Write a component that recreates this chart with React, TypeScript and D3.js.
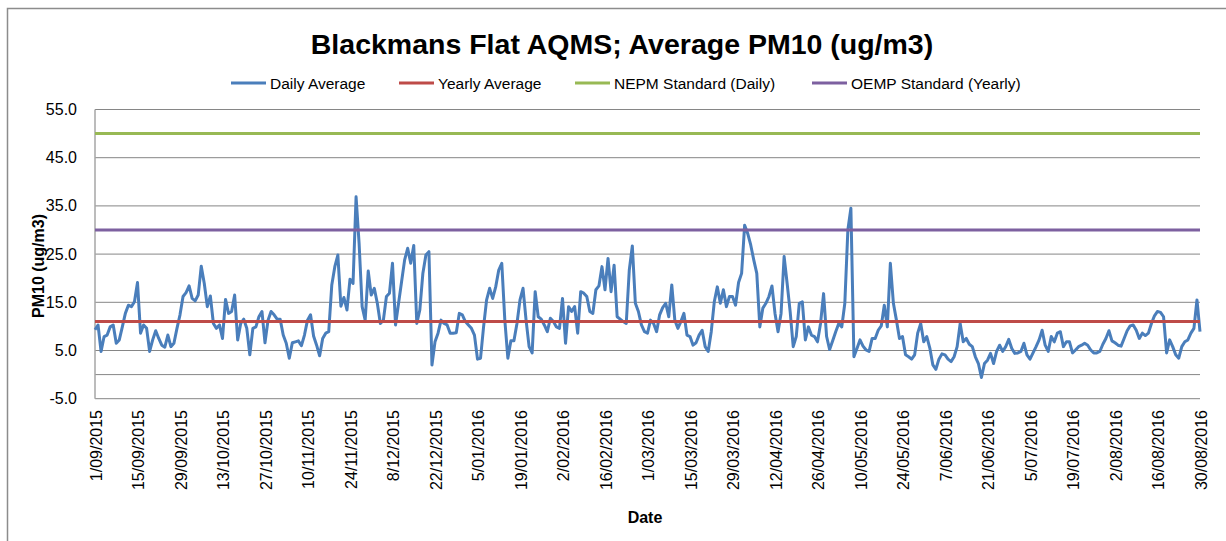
import React from 'react'
import * as d3 from 'd3'

// daily PM10 averages, 1/09/2015 .. 30/08/2016
const dailyAverage: number[] = [
  9.3, 10.3, 4.8, 7.9, 8.2, 9.9, 10.3, 6.5, 7.2, 9.9,
  12.7, 14.4, 14.1, 15.1, 19.1, 8.6, 10.3, 9.6, 4.8, 7.2,
  9.1, 7.5, 6.1, 5.7, 8.2, 5.8, 6.5, 9.6, 12.4, 16.2,
  17.0, 18.4, 15.8, 15.3, 16.5, 22.5, 18.9, 14.1, 16.3, 10.6,
  9.6, 10.3, 7.5, 15.6, 12.7, 13.1, 16.5, 7.2, 10.6, 11.5,
  9.6, 4.1, 9.6, 9.9, 12.0, 13.1, 6.6, 11.3, 13.1, 12.4,
  11.5, 11.5, 8.2, 6.5, 3.4, 6.6, 6.8, 7.0, 6.0, 8.2,
  11.3, 12.4, 8.0, 6.1, 3.9, 7.5, 8.6, 8.9, 18.6, 22.4,
  24.8, 14.2, 16.0, 13.4, 19.8, 18.9, 36.9, 27.2, 14.1, 11.3,
  21.5, 16.5, 17.9, 14.8, 10.6, 11.3, 16.2, 16.9, 23.1, 10.3,
  14.8, 19.3, 23.8, 26.2, 23.1, 26.8, 10.6, 13.4, 21.0, 24.8,
  25.5, 2.0, 6.8, 8.6, 11.3, 10.6, 10.3, 8.6, 8.6, 8.7,
  12.7, 12.4, 11.0, 10.3, 9.6, 8.2, 3.2, 3.4, 9.9, 15.5,
  17.9, 15.8, 18.2, 21.7, 23.1, 11.3, 3.4, 7.0, 7.0, 10.6,
  15.5, 17.9, 11.3, 5.8, 4.5, 17.2, 12.0, 11.5, 10.3, 8.9,
  11.7, 11.0, 9.9, 9.6, 15.8, 6.5, 14.1, 13.1, 14.1, 8.6,
  17.2, 16.9, 16.2, 13.1, 12.7, 17.6, 18.4, 22.4, 17.6, 24.1,
  17.2, 22.7, 12.0, 11.5, 11.0, 10.6, 21.7, 26.7, 14.8, 13.1,
  10.3, 8.9, 8.6, 11.3, 10.6, 8.9, 12.4, 13.9, 14.8, 12.0,
  18.6, 11.3, 9.6, 11.0, 12.7, 8.2, 7.9, 6.1, 6.6, 8.2,
  9.2, 5.8, 4.8, 8.9, 15.1, 18.2, 14.8, 17.6, 14.1, 16.2,
  16.2, 14.4, 19.1, 21.0, 31.0, 29.3, 26.9, 23.8, 21.0, 9.9,
  13.8, 14.8, 16.2, 18.4, 12.7, 8.9, 12.7, 24.5, 18.9, 13.0,
  5.8, 7.9, 14.8, 15.1, 7.2, 9.9, 8.2, 7.9, 6.8, 10.6,
  16.8, 7.9, 5.2, 7.0, 8.9, 10.6, 9.9, 14.8, 30.0, 34.5,
  3.7, 5.4, 7.2, 5.9, 5.1, 4.8, 7.5, 7.5, 9.2, 10.1,
  14.4, 9.9, 23.1, 14.8, 11.3, 7.5, 7.9, 4.1, 3.7, 3.2,
  4.1, 8.6, 10.6, 6.8, 7.9, 5.5, 2.0, 1.1, 3.2, 4.3,
  4.1, 3.2, 2.7, 3.7, 5.8, 10.6, 6.8, 7.5, 6.3, 5.8,
  3.7, 2.3, -0.6, 2.3, 3.0, 4.4, 2.3, 4.8, 6.1, 4.8,
  5.8, 7.3, 5.4, 4.4, 4.5, 4.8, 6.5, 4.1, 3.2, 4.5,
  5.8, 7.2, 9.2, 6.1, 4.8, 7.9, 6.8, 8.6, 8.9, 5.8,
  6.8, 6.8, 4.5, 5.1, 5.8, 6.1, 6.5, 6.1, 5.1, 4.5,
  4.5, 4.8, 6.3, 7.5, 9.1, 7.0, 6.6, 6.1, 5.9, 7.5,
  9.1, 10.1, 10.3, 9.2, 7.5, 8.6, 8.1, 8.6, 10.6, 12.2,
  13.1, 12.9, 12.0, 4.5, 7.2, 5.8, 4.1, 3.4, 5.8, 6.8,
  7.2, 8.6, 9.6, 15.5, 8.9
]

const yearlyAverage = 11.0
const nepmDailyStandard = 50
const oempYearlyStandard = 30

const startDate = '1/09/2015'
const xTickLabels = [
  '1/09/2015', '15/09/2015', '29/09/2015', '13/10/2015', '27/10/2015',
  '10/11/2015', '24/11/2015', '8/12/2015', '22/12/2015', '5/01/2016',
  '19/01/2016', '2/02/2016', '16/02/2016', '1/03/2016', '15/03/2016',
  '29/03/2016', '12/04/2016', '26/04/2016', '10/05/2016', '24/05/2016',
  '7/06/2016', '21/06/2016', '5/07/2016', '19/07/2016', '2/08/2016',
  '16/08/2016', '30/08/2016'
]
const yTickValues = [-5, 5, 15, 25, 35, 45, 55]

const seriesNames = ['Daily Average', 'Yearly Average', 'NEPM Standard (Daily)', 'OEMP Standard (Yearly)']
const seriesColors = ['#4A7EBB', '#BE4B48', '#98B954', '#7D60A0']

const WIDTH = 1226
const HEIGHT = 541
const FONT = 'Liberation Sans, Arial, sans-serif'

export default function App() {
  const parseDate = d3.timeParse('%d/%m/%Y')
  const start = parseDate(startDate) as Date
  const dates = dailyAverage.map((_, i) => d3.timeDay.offset(start, i))

  const x = d3.scaleTime()
    .domain([dates[0], dates[dates.length - 1]])
    .range([95, 1200])

  const y = d3.scaleLinear()
    .domain([-5, 55])
    .range([398.7, 109.5])

  const line = d3.line<number>()
    .x((_, i) => x(dates[i]))
    .y(d => y(d))

  const flat = (v: number) => `M${x(dates[0])},${y(v)}H${x(dates[dates.length - 1])}`

  // Excel shows a plain hyphen, not the unicode minus d3 uses
  const fmt = (v: number) => d3.format('.1f')(v).replace('\u2212', '-')
  const [x0, x1] = x.range()

  const legendX = [270, 438, 614, 851]

  return (
    <svg
      width={WIDTH}
      height={HEIGHT}
      style={{ position: 'absolute', left: 0, top: 0, background: '#fff' }}
      fontFamily={FONT}
    >
      <rect x={7.5} y={8.5} width={1240} height={560} fill="#fff" stroke="#8c8c8c" strokeWidth={1.5} />

      <text x={622} y={54} textAnchor="middle" fontSize={28.5} fontWeight="bold" fill="#000">
        Blackmans Flat AQMS; Average PM10 (ug/m3)
      </text>

      {/* legend */}
      {seriesNames.map((name, i) => (
        <g key={name}>
          <line x1={legendX[i] - 39} x2={legendX[i] - 4} y1={83} y2={83} stroke={seriesColors[i]} strokeWidth={3} />
          <text x={legendX[i]} y={83} dominantBaseline="central" fontSize={15.5} fill="#000">{name}</text>
        </g>
      ))}

      {/* gridlines */}
      {yTickValues.map(v => (
        <line key={v} x1={x0} x2={x1} y1={y(v)} y2={y(v)} stroke="#868686" strokeWidth={1} />
      ))}
      {/* horizontal axis crosses at 0 */}
      <line x1={x0} x2={x1} y1={y(0)} y2={y(0)} stroke="#868686" strokeWidth={1} />
      <line x1={x0} x2={x0} y1={y(55)} y2={y(-5)} stroke="#a6a6a6" strokeWidth={1.5} />

      {/* y tick labels */}
      {yTickValues.map(v => (
        <text key={v} x={77} y={y(v)} textAnchor="end" dominantBaseline="central" fontSize={16} fill="#000">
          {fmt(v)}
        </text>
      ))}

      {/* x tick labels */}
      {xTickLabels.map(label => {
        const tx = x(parseDate(label) as Date) + 1
        return (
          <text
            key={label}
            transform={`translate(${tx},410) rotate(-90)`}
            textAnchor="end"
            dominantBaseline="central"
            fontSize={16}
            fill="#000"
          >
            {label}
          </text>
        )
      })}

      <text x={645} y={517} textAnchor="middle" dominantBaseline="central" fontSize={16} fontWeight="bold" fill="#000">
        Date
      </text>
      <text
        transform="translate(38,266) rotate(-90)"
        textAnchor="middle"
        dominantBaseline="central"
        fontSize={16}
        fontWeight="bold"
        fill="#000"
      >
        PM10 (ug/m3)
      </text>

      {/* series */}
      <path d={line(dailyAverage) ?? ''} fill="none" stroke={seriesColors[0]} strokeWidth={3} strokeLinejoin="round" />
      <path d={flat(yearlyAverage)} fill="none" stroke={seriesColors[1]} strokeWidth={3} />
      <path d={flat(nepmDailyStandard)} fill="none" stroke={seriesColors[2]} strokeWidth={3} />
      <path d={flat(oempYearlyStandard)} fill="none" stroke={seriesColors[3]} strokeWidth={3} />
    </svg>
  )
}
